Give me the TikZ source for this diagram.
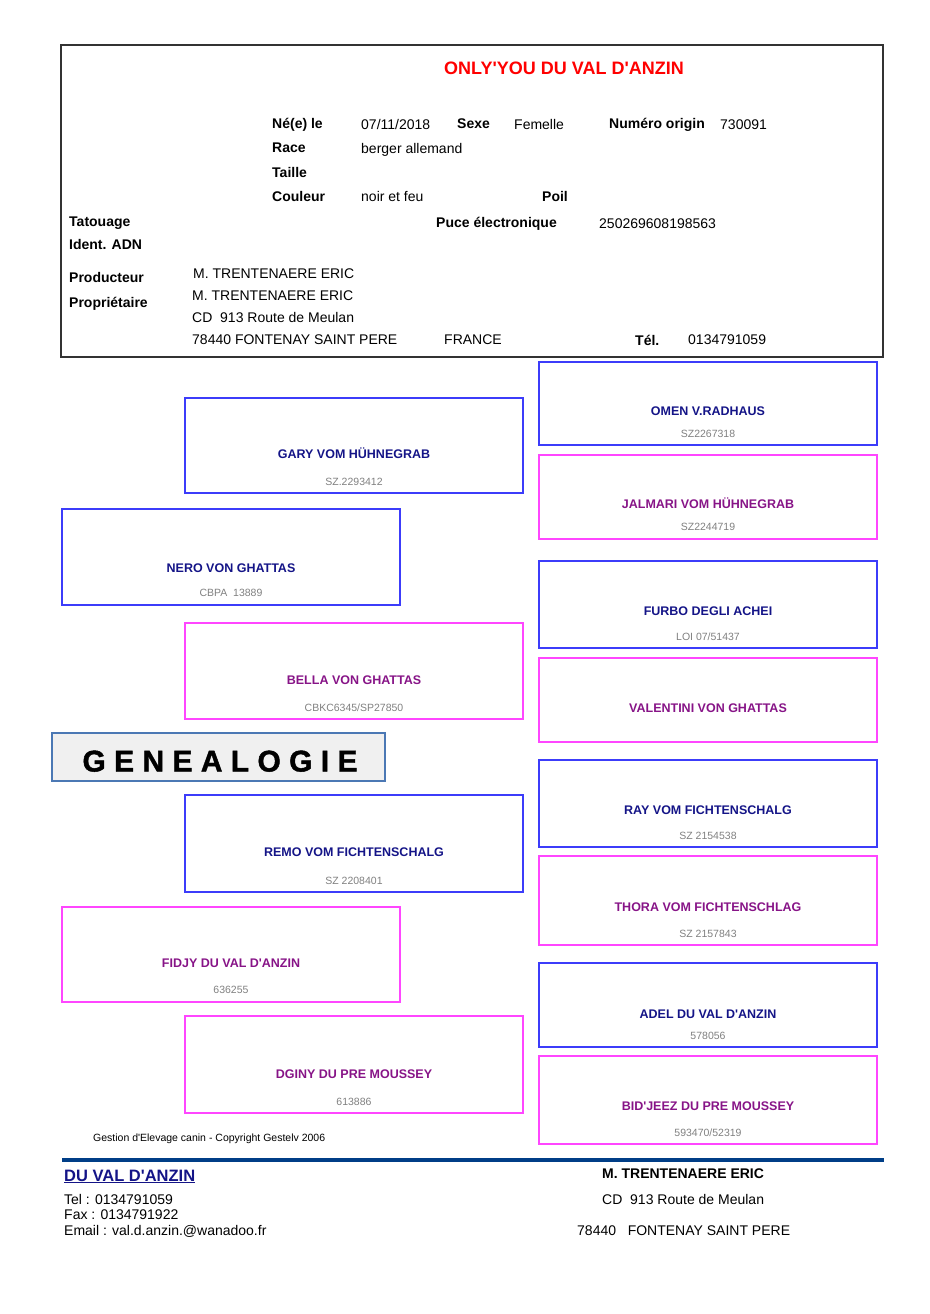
\documentclass[tikz,border=0pt]{standalone}
\usepackage{fontspec}
\setmainfont{Liberation Sans}[Ligatures=TeXOff]
\usepackage{tikz}
\usepackage{xcolor}
\usetikzlibrary{positioning}

\definecolor{mline}{RGB}{60,60,250}
\definecolor{fline}{RGB}{255,70,255}
\definecolor{mtext}{RGB}{20,20,135}
\definecolor{ftext}{RGB}{135,20,135}
\definecolor{regtext}{RGB}{128,128,128}
\definecolor{rule}{RGB}{0,62,135}
\definecolor{genframe}{RGB}{75,120,180}

\tikzset{
  lbl/.style={anchor=west, inner sep=0pt, text height=10pt, text depth=0pt, font=\fontsize{14}{16}\selectfont\bfseries},
  val/.style={anchor=west, inner sep=0pt, text height=10pt, text depth=0pt, font=\fontsize{14}{16}\selectfont},
  male/.style={draw=mline, line width=1.3pt, minimum width=338pt, inner sep=0pt},
  female/.style={draw=fline, line width=1.3pt, minimum width=338pt, inner sep=0pt},
  mname/.style={inner sep=0pt, text height=9pt, text depth=0pt, text=mtext, font=\fontsize{12.5}{14}\selectfont\bfseries},
  fname/.style={inner sep=0pt, text height=9pt, text depth=0pt, text=ftext, font=\fontsize{12.5}{14}\selectfont\bfseries},
  regno/.style={inner sep=0pt, text height=7.5pt, text depth=0pt, text=regtext, font=\fontsize{10.5}{12}\selectfont}
}

\begin{document}
\begin{tikzpicture}[x=1pt, y=-1pt]
\useasboundingbox (0,0) rectangle (929,1314);

\node (hdr) [draw=black!80, line width=1.5pt, minimum width=822pt, minimum height=312pt, inner sep=0pt] at (472,201) {};
\node (title) [inner sep=0pt, text height=13pt, text depth=0pt, text=red, font=\fontsize{18}{20}\selectfont\bfseries] at (564,68) {ONLY'YOU DU VAL D'ANZIN};

\node (l1) [lbl] at (272,123) {Né(e) le};
\node (v1) [val] at (361,124) {07/11/2018};
\node (l2) [lbl] at (457,123) {Sexe};
\node (v2) [val] at (514,124) {Femelle};
\node (l3) [lbl] at (609,123) {Numéro origin};
\node (v3) [val] at (720,124) {730091};
\node (l4) [lbl] at (272,147) {Race};
\node (v4) [val] at (361,148) {berger allemand};
\node (l5) [lbl] at (272,172) {Taille};
\node (l6) [lbl] at (272,196) {Couleur};
\node (v6) [val] at (361,196) {noir et feu};
\node (l7) [lbl] at (542,196) {Poil};
\node (l8) [lbl] at (69,221) {Tatouage};
\node (l9) [lbl] at (436,222) {Puce électronique};
\node (v9) [val] at (599,223) {250269608198563};
\node (l10) [lbl] at (69,244) {Ident. ADN};
\node (l11) [lbl] at (69,277) {Producteur};
\node (v11) [val] at (193,273) {M. TRENTENAERE ERIC};
\node (l12) [lbl] at (69,302) {Propriétaire};
\node (v12) [val] at (192,295) {M. TRENTENAERE ERIC};
\node (v13) [val] at (192,317) {CD\ \ 913 Route de Meulan};
\node (v14) [val] at (192,339) {78440 FONTENAY SAINT PERE};
\node (v15) [val] at (444,339) {FRANCE};
\node (l16) [lbl] at (635,340) {Tél.};
\node (v16) [val] at (688,339) {0134791059};

\node (s) [male, minimum height=96pt] at (231,557) {};
\node (sn) [mname] at (231,568) {NERO VON GHATTAS};
\node (sr) [regno] at (231,593) {CBPA\ \ 13889};
\node (d) [female, minimum height=95pt] at (231,954.5) {};
\node (dn) [fname] at (231,963) {FIDJY DU VAL D'ANZIN};
\node (dr) [regno] at (231,990) {636255};

\node (ss) [male, minimum height=95pt] at (354,445.5) {};
\node (ssn) [mname] at (354,454) {GARY VOM HÜHNEGRAB};
\node (ssr) [regno] at (354,482) {SZ.2293412};
\node (sd) [female, minimum height=96pt] at (354,671) {};
\node (sdn) [fname] at (354,680) {BELLA VON GHATTAS};
\node (sdr) [regno] at (354,708) {CBKC6345/SP27850};
\node (ds) [male, minimum height=97pt] at (354,843.5) {};
\node (dsn) [mname] at (354,852) {REMO VOM FICHTENSCHALG};
\node (dsr) [regno] at (354,881) {SZ 2208401};
\node (dd) [female, minimum height=97pt] at (354,1064.5) {};
\node (ddn) [fname] at (354,1074) {DGINY DU PRE MOUSSEY};
\node (ddr) [regno] at (354,1102) {613886};

\node (sss) [male, minimum height=83pt] at (708,403.5) {};
\node (sssn) [mname] at (708,411) {OMEN V.RADHAUS};
\node (sssr) [regno] at (708,434) {SZ2267318};
\node (ssd) [female, minimum height=84pt] at (708,497) {};
\node (ssdn) [fname] at (708,504) {JALMARI VOM HÜHNEGRAB};
\node (ssdr) [regno] at (708,527) {SZ2244719};
\node (sds) [male, minimum height=87pt] at (708,604.5) {};
\node (sdsn) [mname] at (708,611) {FURBO DEGLI ACHEI};
\node (sdsr) [regno] at (708,637) {LOI 07/51437};
\node (sdd) [female, minimum height=84pt] at (708,700) {};
\node (sddn) [fname] at (708,708) {VALENTINI VON GHATTAS};
\node (dss) [male, minimum height=87pt] at (708,803.5) {};
\node (dssn) [mname] at (708,810) {RAY VOM FICHTENSCHALG};
\node (dssr) [regno] at (708,836) {SZ 2154538};
\node (dsd) [female, minimum height=89pt] at (708,900.5) {};
\node (dsdn) [fname] at (708,907) {THORA VOM FICHTENSCHLAG};
\node (dsdr) [regno] at (708,934) {SZ 2157843};
\node (dds) [male, minimum height=84pt] at (708,1005) {};
\node (ddsn) [mname] at (708,1014) {ADEL DU VAL D'ANZIN};
\node (ddsr) [regno] at (708,1036) {578056};
\node (ddd) [female, minimum height=88pt] at (708,1100) {};
\node (dddn) [fname] at (708,1106) {BID'JEEZ DU PRE MOUSSEY};
\node (dddr) [regno] at (708,1133) {593470/52319};

\node (gen) [draw=genframe, fill=black!6, line width=1.5pt, minimum width=333pt, minimum height=48pt, inner sep=0pt] at (218.5,757) {};
\node (gent) [inner sep=0pt, text height=21pt, text depth=0pt, font=\fontsize{30}{32}\selectfont\bfseries\addfontfeature{FakeBold=1.5}] at (220,761) {G E N E A L O G I E};

\node (copy) [val, text height=7.5pt, font=\fontsize{10.5}{12}\selectfont] at (93,1138) {Gestion d'Elevage canin - Copyright Gestelv 2006};
\draw[rule, line width=4pt] (62,1160) -- (884,1160);

\node (kennel) [val, text height=12pt, text=mtext, font=\fontsize{16.5}{18}\selectfont\bfseries] at (64,1175) {\underline{DU VAL D'ANZIN}};
\node (tel) [val] at (64,1199) {Tel : 0134791059};
\node (fax) [val] at (64,1214) {Fax : 0134791922};
\node (mail) [val] at (64,1230) {Email : val.d.anzin.@wanadoo.fr};
\node (own) [lbl] at (602,1173) {M. TRENTENAERE ERIC};
\node (addr) [val] at (602,1199) {CD\ \ 913 Route de Meulan};
\node (city) [val] at (577,1230) {78440\ \ \ FONTENAY SAINT PERE};
\end{tikzpicture}
\end{document}
